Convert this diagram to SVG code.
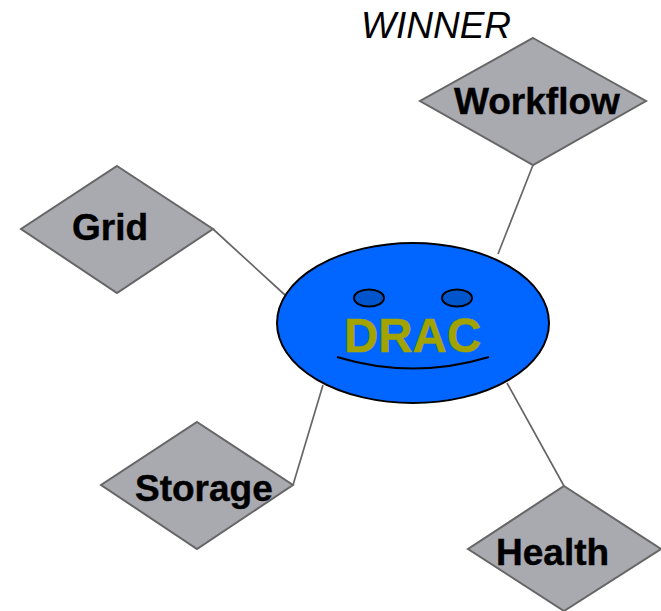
<svg xmlns="http://www.w3.org/2000/svg" width="661" height="611" viewBox="0 0 661 611">
<style>
.d{fill:#a9a9b0;stroke:#666;stroke-width:2}
.l{font:bold 37px "Liberation Sans",Arial,sans-serif;fill:#000;stroke:#000;stroke-width:.4}
.c{fill:none;stroke:#666;stroke-width:1.7}
.e{stroke:#000;stroke-width:2}
</style>
<rect width="661" height="611" fill="#fff"/>
<text x="361" y="38" font-family="Liberation Sans, Arial, sans-serif" font-style="italic" font-size="37" fill="#000">WINNER</text>
<g id="connectors">
<path class="c" d="M533 165L498 254M213 229L285 295M323 385L293 485M507 383L564 486"/>
</g>
<g id="workflow"><path class="d" d="M533 38L646 101L533 165L420 101Z"/><text class="l" x="454" y="114">Workflow</text></g>
<g id="grid"><path class="d" d="M117 166L213 229L117 293L21 229Z"/><text class="l" x="72" y="240">Grid</text></g>
<g id="storage"><path class="d" d="M197 422L293 485L197 549L101 485Z"/><text class="l" x="135" y="501">Storage</text></g>
<g id="health"><path class="d" d="M564 486L661 549L564 611L468 549Z"/><text class="l" x="496" y="565">Health</text></g>
<g id="drac">
<ellipse class="e" fill="#0066ff" cx="413" cy="323" rx="136" ry="80"/>
<ellipse class="e" fill="#0055cc" cx="369" cy="298" rx="15" ry="8.5"/>
<ellipse class="e" fill="#0055cc" cx="457" cy="298" rx="15" ry="8.5"/>
<path d="M337 357Q413 380 489 357" fill="none" stroke="#000" stroke-width="2"/>
<text x="344" y="352" font-family="Liberation Sans, Arial, sans-serif" font-weight="bold" font-size="47.5" fill="#a3a300" stroke="#a3a300" stroke-width=".5">DRAC</text>
</g>
</svg>
